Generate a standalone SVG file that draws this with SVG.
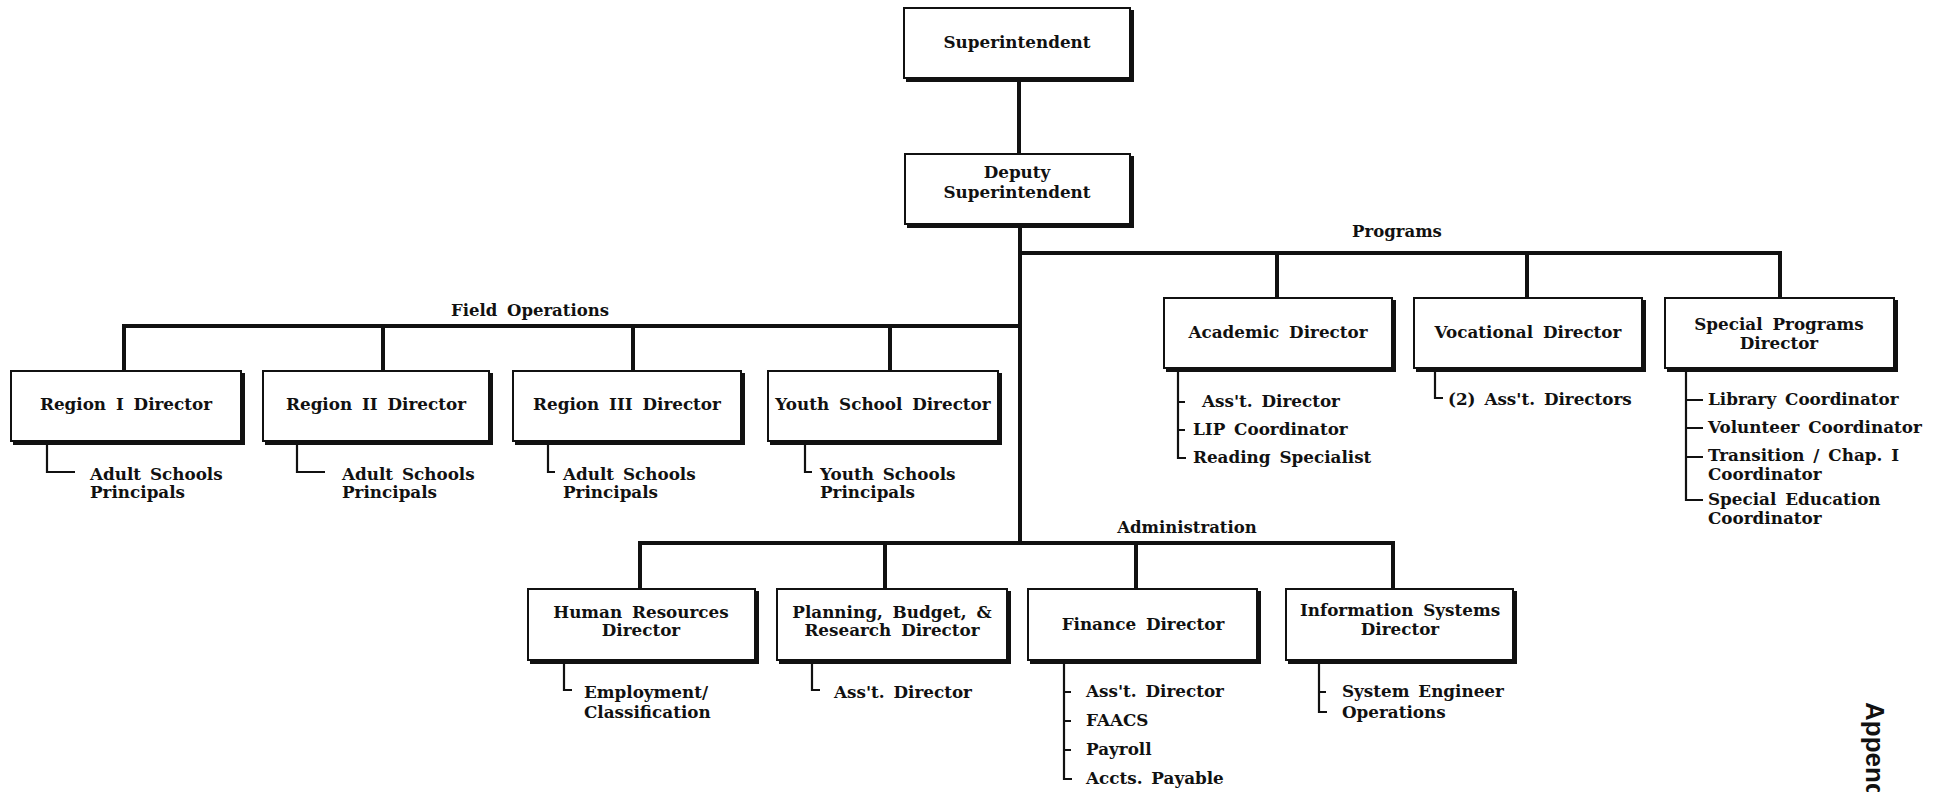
<svg xmlns="http://www.w3.org/2000/svg" width="1945" height="792" viewBox="0 0 1945 792">
<style>
text{font-family:"DejaVu Serif","Liberation Serif",serif;font-weight:bold;fill:#111;}
.bl{font-size:16.8px;word-spacing:4px;text-anchor:middle;}
.sl{font-size:16.8px;word-spacing:3px;}
.gl{font-size:16.5px;word-spacing:4px;text-anchor:middle;}
.box{fill:#fff;stroke:#111;stroke-width:2;}
.sh{fill:none;stroke:#111;stroke-width:4;}
.con{fill:none;stroke:#111;stroke-width:4;}
.br{fill:none;stroke:#111;stroke-width:2.2;}
.app{font-family:"Liberation Sans",Arial,sans-serif;font-size:26px;font-weight:bold;}
</style>
<rect width="1945" height="792" fill="#fff"/>

<g id="connectors">
<path class="con" d="M1019 82V154"/>
<path class="con" d="M1020 228V545"/>
<path class="con" d="M1020 253H1780M1277 253V298M1527 253V298M1780 251V298"/>
<path class="con" d="M124 326H1020M124 324V371M383 326V371M633 326V371M890 326V371"/>
<path class="con" d="M640 543H1393M640 541V589M885 543V589M1136 543V589M1393 541V589"/>
<text class="gl" x="530" y="316">Field Operations</text>
<text class="gl" x="1397" y="237">Programs</text>
<text class="gl" x="1187" y="533">Administration</text>
</g>

<g id="superintendent">
<rect class="box" x="904" y="8" width="226" height="70"/>
<path class="sh" d="M1132 10V80H906"/>
<text class="bl" x="1017" y="48">Superintendent</text>
</g>

<g id="deputy">
<rect class="box" x="905" y="154" width="225" height="70"/>
<path class="sh" d="M1132 156V226H907"/>
<text class="bl" x="1017" y="178">Deputy</text>
<text class="bl" x="1017" y="198">Superintendent</text>
</g>

<g id="region1">
<rect class="box" x="11" y="371" width="230" height="70"/>
<path class="sh" d="M243 373V443H13"/>
<text class="bl" x="126" y="410">Region I Director</text>
<path class="br" d="M47 444V472H75"/>
<text class="sl" x="90" y="480">Adult Schools</text>
<text class="sl" x="90" y="498">Principals</text>
</g>

<g id="region2">
<rect class="box" x="263" y="371" width="226" height="70"/>
<path class="sh" d="M491 373V443H265"/>
<text class="bl" x="376" y="410">Region II Director</text>
<path class="br" d="M297 444V472H325"/>
<text class="sl" x="342" y="480">Adult Schools</text>
<text class="sl" x="342" y="498">Principals</text>
</g>

<g id="region3">
<rect class="box" x="513" y="371" width="228" height="70"/>
<path class="sh" d="M743 373V443H515"/>
<text class="bl" x="627" y="410">Region III Director</text>
<path class="br" d="M548 444V472H555"/>
<text class="sl" x="563" y="480">Adult Schools</text>
<text class="sl" x="563" y="498">Principals</text>
</g>

<g id="youth">
<rect class="box" x="768" y="371" width="230" height="70"/>
<path class="sh" d="M1000 373V443H770"/>
<text class="bl" x="883" y="410">Youth School Director</text>
<path class="br" d="M805 444V472H812"/>
<text class="sl" x="820" y="480">Youth Schools</text>
<text class="sl" x="820" y="498">Principals</text>
</g>

<g id="academic">
<rect class="box" x="1164" y="298" width="228" height="70"/>
<path class="sh" d="M1394 300V370H1166"/>
<text class="bl" x="1278" y="338">Academic Director</text>
<path class="br" d="M1178 371V458H1186M1178 402H1185M1178 430H1185"/>
<text class="sl" x="1202" y="407">Ass't. Director</text>
<text class="sl" x="1193" y="435">LIP Coordinator</text>
<text class="sl" x="1193" y="463">Reading Specialist</text>
</g>

<g id="vocational">
<rect class="box" x="1414" y="298" width="228" height="70"/>
<path class="sh" d="M1644 300V370H1416"/>
<text class="bl" x="1528" y="338">Vocational Director</text>
<path class="br" d="M1435 371V398H1443"/>
<text class="sl" x="1448" y="405">(2) Ass't. Directors</text>
</g>

<g id="special">
<rect class="box" x="1665" y="298" width="229" height="70"/>
<path class="sh" d="M1896 300V370H1667"/>
<text class="bl" x="1779" y="330">Special Programs</text>
<text class="bl" x="1779" y="349">Director</text>
<path class="br" d="M1686 371V500H1703M1686 400H1703M1686 428H1703M1686 457H1703"/>
<text class="sl" x="1708" y="405">Library Coordinator</text>
<text class="sl" x="1708" y="433">Volunteer Coordinator</text>
<text class="sl" x="1708" y="461">Transition / Chap. I</text>
<text class="sl" x="1708" y="480">Coordinator</text>
<text class="sl" x="1708" y="505">Special Education</text>
<text class="sl" x="1708" y="524">Coordinator</text>
</g>

<g id="hr">
<rect class="box" x="528" y="589" width="227" height="71"/>
<path class="sh" d="M757 591V662H530"/>
<text class="bl" x="641" y="618">Human Resources</text>
<text class="bl" x="641" y="636">Director</text>
<path class="br" d="M564 663V690H572"/>
<text class="sl" x="584" y="698">Employment/</text>
<text class="sl" x="584" y="718">Classification</text>
</g>

<g id="pbr">
<rect class="box" x="777" y="589" width="230" height="71"/>
<path class="sh" d="M1009 591V662H779"/>
<text class="bl" x="892" y="618">Planning, Budget, &amp;</text>
<text class="bl" x="892" y="636">Research Director</text>
<path class="br" d="M812 663V690H820"/>
<text class="sl" x="834" y="698">Ass't. Director</text>
</g>

<g id="finance">
<rect class="box" x="1028" y="589" width="229" height="71"/>
<path class="sh" d="M1259 591V662H1030"/>
<text class="bl" x="1143" y="630">Finance Director</text>
<path class="br" d="M1064 663V779H1072M1064 692H1071M1064 721H1071M1064 750H1071"/>
<text class="sl" x="1086" y="697">Ass't. Director</text>
<text class="sl" x="1086" y="726">FAACS</text>
<text class="sl" x="1086" y="755">Payroll</text>
<text class="sl" x="1086" y="784">Accts. Payable</text>
</g>

<g id="infosys">
<rect class="box" x="1286" y="589" width="227" height="71"/>
<path class="sh" d="M1515 591V662H1288"/>
<text class="bl" x="1400" y="616">Information Systems</text>
<text class="bl" x="1400" y="635">Director</text>
<path class="br" d="M1319 663V712H1327M1319 692H1326"/>
<text class="sl" x="1342" y="697">System Engineer</text>
<text class="sl" x="1342" y="718">Operations</text>
</g>

<text class="app" transform="translate(1866,702) rotate(90)">Append</text>
</svg>
